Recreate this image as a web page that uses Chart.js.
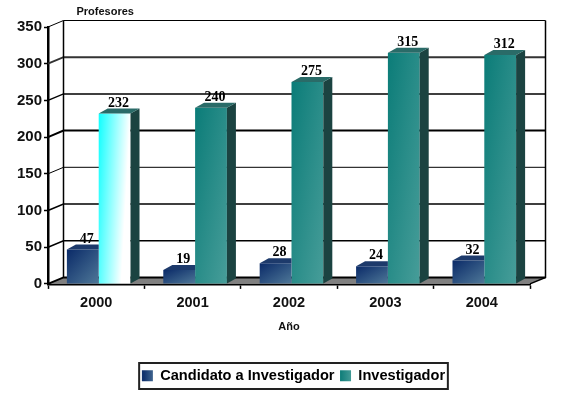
<!DOCTYPE html>
<html>
<head>
<meta charset="utf-8">
<style>html,body{margin:0;padding:0;background:#fff}#w{width:567px;height:395px}</style>
<script src="https://cdn.jsdelivr.net/npm/chart.js@4"></script>
</head>
<body>
<div id="w"><canvas id="c" width="567" height="395"></canvas></div>
<script>
const years = ['2000', '2001', '2002', '2003', '2004'];
const candidato = [47, 19, 28, 24, 32];
const investigador = [232, 240, 275, 315, 312];
const seriesNames = ['Candidato a Investigador', 'Investigador'];
const yAxisName = 'Profesores';
const xAxisName = 'Año';

const FONT = '"Liberation Sans", Arial, sans-serif';
const CAT_PCT = 0.66;
const SHIFT = 2.5;           // bars sit slightly right of the category centre
const BAR = {dx: 9, dy: 5};  // bar depth
const WALL = {dx: 15.5, dy: 6.5}; // wall depth
const gridWidths = [2, 1.5, 1.5, 1, 2, 1.5, 2, 1];
const LEGEND_BOX_HEIGHT = 26;

// a = colour change across the bar width, b = colour change down its height
function faceGradient(c2d, x0, top, w, H, a, b) {
  const s = 1 / ((a / w) * (a / w) + (b / H) * (b / H));
  return c2d.createLinearGradient(x0, top, x0 + a / w * s, top + b / H * s);
}

function barGradient(ctx) {
  const chart = ctx.chart, sx = chart.scales.x, sy = chart.scales.y;
  if (!sx || !sy || ctx.dataIndex === undefined) return '#0e7f7b';
  const c = sx.getPixelForValue(ctx.dataIndex);
  const w = sx.width / years.length * CAT_PCT / 2;
  const x0 = ctx.datasetIndex === 0 ? c - w : c;
  const top = sy.getPixelForValue(ctx.raw), bottom = sy.getPixelForValue(0);
  const H = bottom - top;
  let g;
  if (ctx.datasetIndex === 0) {
    g = faceGradient(chart.ctx, x0, top, w, H, 0.5, 0.5);
    g.addColorStop(0, '#0a2a68'); g.addColorStop(1, '#4f7898');
  } else if (ctx.dataIndex === 0) {
    g = faceGradient(chart.ctx, x0, top, w, H, 0.85, 0.25);
    g.addColorStop(0, '#10ffff'); g.addColorStop(0.85, '#ffffff'); g.addColorStop(1, '#ffffff');
  } else {
    g = faceGradient(chart.ctx, x0, top, w, H, 0.5, 0.5);
    g.addColorStop(0, '#0b7c78'); g.addColorStop(1, '#479d99');
  }
  return g;
}

function poly(ctx, pts, fill) {
  ctx.beginPath();
  pts.forEach((p, i) => i ? ctx.lineTo(p[0], p[1]) : ctx.moveTo(p[0], p[1]));
  ctx.closePath();
  ctx.fillStyle = fill;
  ctx.fill();
}

const wallPlugin = {
  id: 'wall',
  afterLayout(chart) {
    const lg = chart.legend;
    lg.left += 28.5; lg.right += 28.5;
    lg.top = 363; lg.bottom = 363 + lg.height;
    chart.titleBlock.left = 76.5;
  },
  beforeDatasetsDraw(chart) {
    const {ctx, chartArea: a, scales: {y}} = chart;
    const base = y.getPixelForValue(0);
    const L = a.left + WALL.dx, R = a.right + WALL.dx;
    ctx.save();
    poly(ctx, [[a.left, base], [L, base - WALL.dy], [R, base - WALL.dy], [a.right, base]], '#808080');
    y.ticks.forEach((t, i) => {
      const p = y.getPixelForValue(t.value);
      ctx.lineWidth = gridWidths[i] || 1;
      ctx.strokeStyle = (i === 6) ? '#333' : '#000';
      ctx.beginPath();
      ctx.moveTo(a.left, p);
      ctx.lineTo(L, p - WALL.dy);
      ctx.lineTo(R, p - WALL.dy);
      ctx.stroke();
    });
    const top = y.getPixelForValue(350) - WALL.dy;
    ctx.lineWidth = 1.5;
    ctx.strokeStyle = '#000';
    ctx.beginPath(); ctx.moveTo(L, top); ctx.lineTo(L, base - WALL.dy); ctx.stroke();
    ctx.beginPath(); ctx.moveTo(R, top); ctx.lineTo(R, base - WALL.dy); ctx.lineTo(a.right, base); ctx.stroke();
    ctx.restore();
  },
  beforeDatasetDraw(chart) {
    chart.ctx.save();
    chart.ctx.translate(SHIFT, 0);
  },
  afterDatasetDraw(chart, args) {
    const ctx = chart.ctx, i = args.index;
    chart.getDatasetMeta(i).data.forEach(el => {
      const x1 = el.x + el.width / 2, x0 = el.x - el.width / 2, yT = el.y, yB = el.base;
      const d = BAR;
      if (i === 1) {
        poly(ctx, [[x1, yT], [x1 + d.dx, yT - d.dy], [x1 + d.dx, yB - d.dy], [x1, yB]], '#1b4341');
        poly(ctx, [[x0, yT], [x0 + d.dx, yT - d.dy], [x1 + d.dx, yT - d.dy], [x1, yT]], '#2a6b68');
      } else {
        // the candidate bar's right part is hidden behind its neighbour
        poly(ctx, [[x0, yT], [x0 + d.dx, yT - d.dy], [x1, yT - d.dy], [x1, yT]], '#1d3a6b');
      }
    });
    ctx.restore();
  },
  afterDatasetsDraw(chart) {
    const ctx = chart.ctx;
    ctx.save();
    ctx.font = 'bold 14px "Liberation Serif", "Times New Roman", serif';
    ctx.fillStyle = '#000';
    ctx.textAlign = 'center';
    ctx.textBaseline = 'middle';
    chart.data.datasets.forEach((ds, i) => {
      chart.getDatasetMeta(i).data.forEach((el, k) => {
        ctx.fillText(String(ds.data[k]), el.x + SHIFT + 4, el.y - 10.5);
      });
    });
    ctx.restore();
  },
  afterDraw(chart) {
    const {ctx, legend: lg} = chart;
    const cx = (lg.left + lg.right) / 2, w = lg.lineWidths[0];
    ctx.save();
    ctx.strokeStyle = '#222';
    ctx.lineWidth = 2;
    ctx.strokeRect(cx - w / 2, lg.top, w, LEGEND_BOX_HEIGHT);
    ctx.restore();
  }
};

function legendSwatch(chart, x, c0, c1) {
  const g = chart.ctx.createLinearGradient(x, 0, x + 11, 0);
  g.addColorStop(0, c0); g.addColorStop(1, c1);
  return g;
}

new Chart(document.getElementById('c'), {
  type: 'bar',
  plugins: [wallPlugin],
  data: {
    labels: years,
    datasets: [
      {label: seriesNames[0], data: candidato, backgroundColor: barGradient, borderWidth: 0,
       categoryPercentage: CAT_PCT, barPercentage: 1, clip: false},
      {label: seriesNames[1], data: investigador, backgroundColor: barGradient, borderWidth: 0,
       categoryPercentage: CAT_PCT, barPercentage: 1, clip: false}
    ]
  },
  options: {
    responsive: false,
    animation: false,
    layout: {padding: {left: 0, right: 37, top: 0, bottom: 31}},
    plugins: {
      tooltip: {enabled: false},
      title: {
        display: true, text: yAxisName, align: 'start', color: '#111',
        font: {family: FONT, size: 11, weight: 'bold'},
        padding: {top: 5, bottom: 8.8}
      },
      legend: {
        position: 'bottom',
        labels: {
          color: '#000',
          font: {family: FONT, size: 14.6, weight: 'bold', lineHeight: 1},
          boxWidth: 11, boxHeight: 11, padding: 5.5,
          generateLabels(chart) {
            return [
              {text: seriesNames[0], fillStyle: legendSwatch(chart, 144, '#12336e', '#4a7096'), lineWidth: 0, strokeStyle: 'transparent', datasetIndex: 0},
              {text: seriesNames[1], fillStyle: legendSwatch(chart, 340, '#0d7c78', '#429a96'), lineWidth: 0, strokeStyle: 'transparent', datasetIndex: 1}
            ];
          }
        }
      }
    },
    scales: {
      x: {
        afterFit(s) { s.height = 50; },
        grid: {drawOnChartArea: false, color: '#000', tickColor: '#000', tickLength: 5, tickWidth: 1.5},
        border: {color: '#000', width: 2.5},
        ticks: {color: '#111', padding: 5, maxRotation: 0, font: {family: FONT, size: 14.5, weight: 'bold'}},
        title: {display: true, text: xAxisName, color: '#111', font: {family: FONT, size: 11, weight: 'bold'}, padding: 0}
      },
      y: {
        min: 0, max: 350,
        afterFit(s) { s.width = 48; },
        grid: {drawOnChartArea: false, color: '#000', tickColor: '#000', tickLength: 4, tickWidth: 1.5},
        border: {color: '#000', width: 2.5},
        ticks: {stepSize: 50, color: '#111', padding: 2, font: {family: FONT, size: 15, weight: 'bold'}}
      }
    }
  }
});
</script>
</body>
</html>
